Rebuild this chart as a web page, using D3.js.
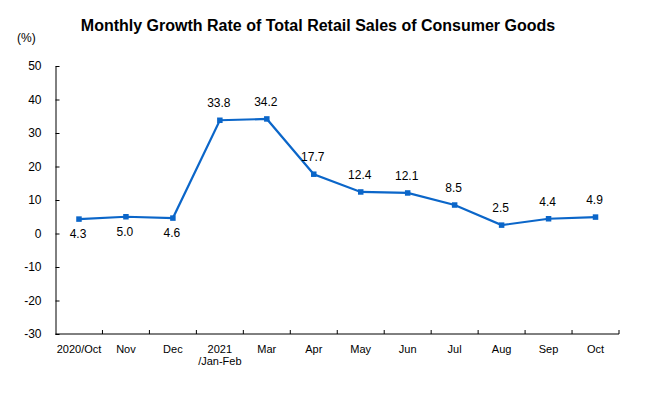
<!DOCTYPE html>
<html><head><meta charset="utf-8">
<script src="https://cdn.jsdelivr.net/npm/d3@7"></script>
<style>body{margin:0;background:#fff;} svg{display:block;}</style>
</head><body>
<script>
const categories = ["2020/Oct","Nov","Dec","2021\n/Jan-Feb","Mar","Apr","May","Jun","Jul","Aug","Sep","Oct"];
const values = [4.3,5.0,4.6,33.8,34.2,17.7,12.4,12.1,8.5,2.5,4.4,4.9];
const labelBelow = [true,true,true,false,false,false,false,false,false,false,false,false];
const yTicks = [-30,-20,-10,0,10,20,30,40,50];
const title = "Monthly Growth Rate of Total Retail Sales of Consumer Goods";

(function(){
const W=648,H=396;
const svg=d3.select("body").append("svg").attr("width",W).attr("height",H);
const mLeft=55.5,mRight=619,mTop=66,mBottom=334;
const x=d3.scaleBand().domain(categories).range([mLeft,mRight]);
const y=d3.scaleLinear().domain([-30,50]).range([mBottom,mTop]);
const font="'Liberation Sans', Arial, sans-serif";
const color="#0b66c9";

svg.append("text").attr("x",318).attr("y",31).attr("text-anchor","middle")
  .attr("font-family",font).attr("font-weight","bold").attr("font-size",16)
  .text(title);
svg.append("text").attr("x",17).attr("y",42).attr("font-family",font).attr("font-size",12).text("(%)");

// y axis
const ya=svg.append("g").attr("transform",`translate(${mLeft},0)`)
  .call(d3.axisLeft(y).tickValues(yTicks).tickFormat(d=>String(d)).tickSizeInner(-4).tickSizeOuter(0).tickPadding(14));
ya.select(".domain").attr("stroke","#000");
ya.selectAll("line").attr("stroke","#000");
ya.selectAll("text").attr("font-family",font).attr("font-size",12).attr("fill","#000");

// x axis
const xa=svg.append("g").attr("transform",`translate(0,${mBottom})`);
xa.append("line").attr("x1",mLeft).attr("x2",mRight).attr("y1",0).attr("y2",0).attr("stroke","#000");
const bounds=categories.map(c=>x(c)+x.bandwidth());
xa.selectAll("line.t").data(bounds).enter().append("line").attr("class","t")
  .attr("x1",d=>d).attr("x2",d=>d).attr("y1",0).attr("y2",-4).attr("stroke","#000");
xa.selectAll("text.l").data(categories).enter().append("text").attr("class","l")
  .attr("text-anchor","middle").attr("font-family","'Liberation Sans Narrow', 'Liberation Sans', Arial, sans-serif")
  .attr("font-size",11).attr("fill","#000")
  .attr("transform",d=>`translate(${x(d)+x.bandwidth()/2},19)`)
  .each(function(d){
    const parts=d.split("\n");
    const t=d3.select(this);
    parts.forEach((p,i)=>t.append("tspan").attr("x",0).attr("dy",i?12:0).text(p));
  });

const cx=(d,i)=>x(categories[i])+x.bandwidth()/2;
svg.append("path").datum(values)
  .attr("d",d3.line().x(cx).y(d=>y(d)))
  .attr("fill","none").attr("stroke",color).attr("stroke-width",2.2);
svg.selectAll("rect.m").data(values).enter().append("rect").attr("class","m")
  .attr("x",(d,i)=>cx(d,i)-2.75).attr("y",d=>y(d)-2.75).attr("width",5.5).attr("height",5.5).attr("fill",color);
svg.selectAll("text.v").data(values).enter().append("text").attr("class","v")
  .attr("x",(d,i)=>cx(d,i)-1).attr("y",(d,i)=>labelBelow[i]?y(d)+19:y(d)-13)
  .attr("text-anchor","middle").attr("font-family",font).attr("font-size",12).attr("fill","#000")
  .text(d=>d.toFixed(1));
})();
</script>
</body></html>
